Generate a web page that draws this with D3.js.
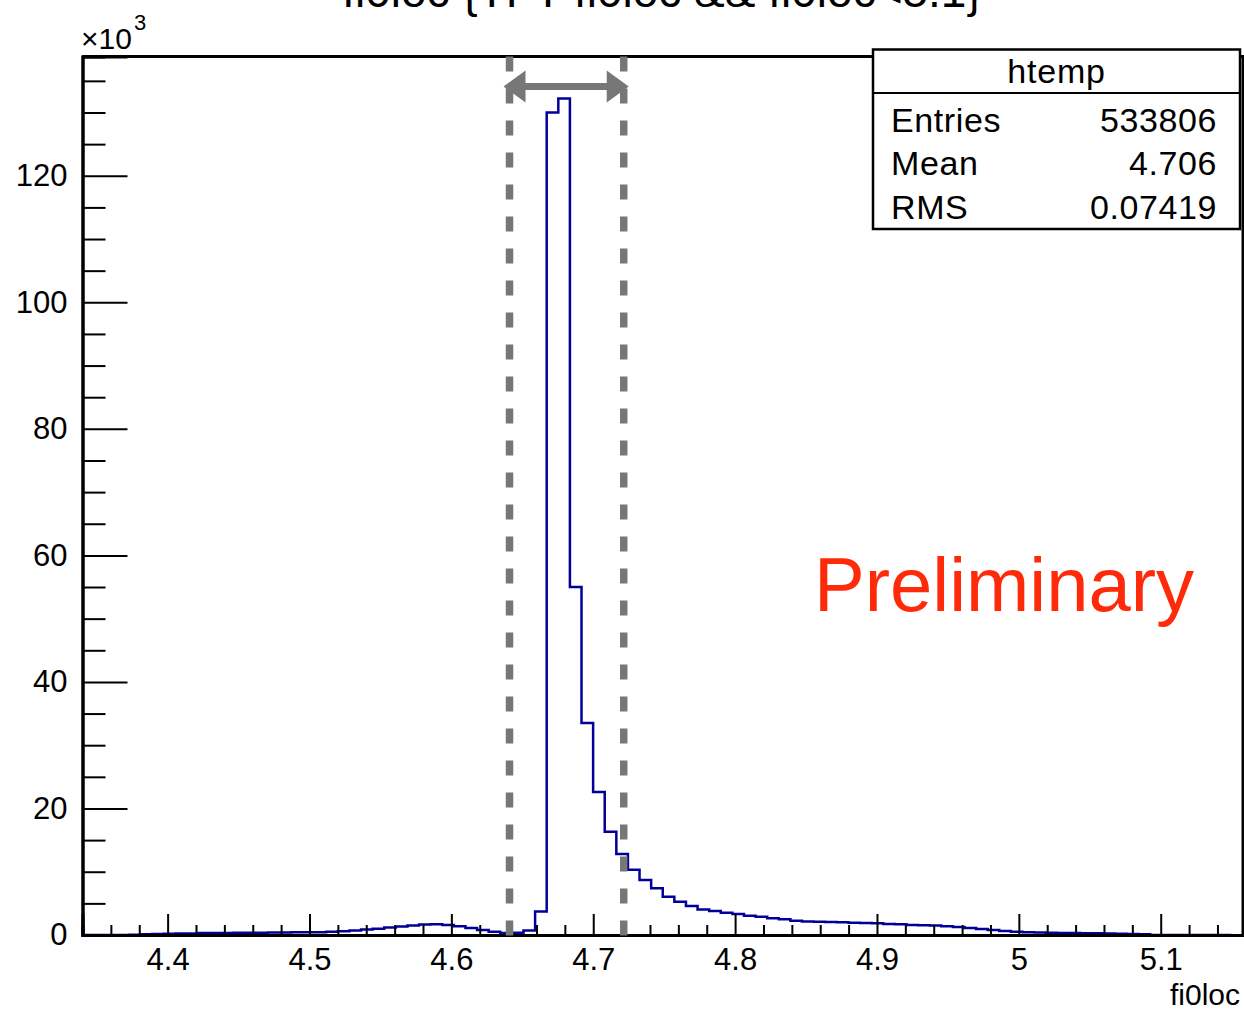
<!DOCTYPE html>
<html>
<head>
<meta charset="utf-8">
<script src="https://cdn.jsdelivr.net/npm/d3@7"></script>
<style>
  body { margin: 0; background: #fff; }
  text { font-family: "Liberation Sans", Arial, Helvetica, sans-serif; }
</style>
</head>
<body>
<div id="chart"></div>
<script>
// histogram definition (fi0loc, 100 bins)
const xMin = 4.34, xMax = 5.158, nBins = 100;
// bin contents, in units of 10^3 entries
const counts = [
  0, 0, 0, 0,
  0.05, 0.1, 0.15, 0.2, 0.25, 0.25, 0.3, 0.3, 0.3, 0.35, 0.35, 0.35, 0.4, 0.4, 0.45, 0.45,
  0.45, 0.5, 0.6, 0.7, 0.85, 1.0, 1.2, 1.35, 1.5, 1.65, 1.7, 1.6, 1.4, 1.1, 0.8, 0.5, 0.3, 0.35, 0.7, 3.7,
  130.0, 132.2, 55.0, 33.5, 22.6, 16.3, 12.8, 10.3, 8.7, 7.4, 6.05, 5.26, 4.58, 4.05, 3.8, 3.5, 3.3, 3.05, 2.9, 2.65, 2.5, 2.25,
  2.15, 2.1, 2.05, 2.0, 1.95, 1.9, 1.85, 1.75, 1.7, 1.6, 1.55, 1.5, 1.4, 1.25, 1.1, 0.95, 0.8, 0.65, 0.5, 0.45,
  0.4, 0.35, 0.33, 0.3, 0.28, 0.26, 0.24, 0.2, 0.16, 0.12,
  0, 0, 0, 0, 0, 0, 0
];
const xMajorTicks = [4.4, 4.5, 4.6, 4.7, 4.8, 4.9, 5.0, 5.1];
const yMajorTicks = [0, 20, 40, 60, 80, 100, 120];
const cutLines = [4.641, 4.7215];
const statRows = [['Entries', '533806'], ['Mean', '4.706'], ['RMS', '0.07419']];
const yMax = 138.85;

let width = 1244, height = 1011,
    margin = {left: 82.5, right: 1, top: 56.5, bottom: 76};

let svg = d3.select('#chart').append('svg')
    .attr('width', width)
    .attr('height', height);

svg.append('rect').attr('width', width).attr('height', height).attr('fill', '#fff');

let x = d3.scaleLinear()
    .domain([xMin, xMax])
    .range([margin.left, width - margin.right]);

let y = d3.scaleLinear()
    .domain([0, yMax])
    .range([height - margin.bottom, margin.top]);

let binW = (xMax - xMin) / nBins;

// title (cut off at top, as in the original canvas)
svg.append('text')
    .attr('x', 662).attr('y', 7)
    .attr('text-anchor', 'middle')
    .style('font-size', '46px')
    .text('fi0loc {TFT fi0loc && fi0loc<5.1}');

// histogram outline
let pts = [];
counts.forEach((c, i) => {
    pts.push([xMin + i * binW, c]);
    pts.push([xMin + (i + 1) * binW, c]);
});
let line = d3.line()
    .x(d => x(d[0]))
    .y(d => y(d[1]));

svg.append('path')
    .datum(pts)
    .attr('d', line)
    .attr('fill', 'none')
    .attr('stroke', '#000099')
    .attr('stroke-width', 2.5);

// x axis, ROOT-style ticks pointing inward
let xMinor = d3.range(4.36, 5.1575, 0.02).filter(v => !xMajorTicks.some(t => Math.abs(t - v) < 1e-6));
let xAxis_g = svg.append('g').attr('transform', `translate(0, ${y(0)})`);
xAxis_g.call(d3.axisBottom(x).tickValues(xMinor).tickSize(-10).tickFormat(''));
xAxis_g.append('g').call(d3.axisBottom(x).tickValues(xMajorTicks).tickSize(-21).tickPadding(13)
    .tickFormat(d => d3.format('~g')(d)));
xAxis_g.selectAll('.domain').attr('stroke-width', 3);
xAxis_g.selectAll('.tick line').attr('stroke', '#000').attr('stroke-width', 2);
xAxis_g.selectAll('text').style('font-size', '31px').attr('fill', '#000');

// y axis
let yMinor = d3.range(5, 136, 5).filter(v => v % 20 !== 0);
let yAxis_g = svg.append('g').attr('transform', `translate(${x(xMin)}, 0)`);
yAxis_g.call(d3.axisLeft(y).tickValues(yMinor).tickSize(-23).tickFormat(''));
yAxis_g.append('g').call(d3.axisLeft(y).tickValues(yMajorTicks).tickSize(-45).tickPadding(15));
yAxis_g.selectAll('.domain').attr('stroke-width', 3);
yAxis_g.selectAll('.tick line').attr('stroke', '#000').attr('stroke-width', 2);
yAxis_g.selectAll('text').style('font-size', '31px').attr('fill', '#000');

// frame top and right
svg.append('path')
    .attr('d', `M${x(xMin)},${y(yMax)}H${x(xMax)}V${y(0)}`)
    .attr('fill', 'none')
    .attr('stroke', '#000')
    .attr('stroke-width', 3);

// x10^3 exponent label
let expo = svg.append('text').attr('x', 81).attr('y', 49).style('font-size', '30px');
expo.append('tspan').text('×10');
expo.append('tspan').attr('dx', 2).attr('dy', -19).style('font-size', '22px').text('3');

// axis title
svg.append('text')
    .attr('x', 1240).attr('y', 1005)
    .attr('text-anchor', 'end')
    .style('font-size', '30px')
    .text('fi0loc');

// cut lines
svg.selectAll('.cut')
    .data(cutLines)
    .enter().append('line')
    .attr('class', 'cut')
    .attr('x1', d => x(d)).attr('x2', d => x(d))
    .attr('y1', y(yMax)).attr('y2', y(0) + 5)
    .attr('stroke', '#777')
    .attr('stroke-width', 7.5)
    .attr('stroke-dasharray', '15,17');

// double arrow between cuts
let ax1 = x(cutLines[0]) - 6, ax2 = x(cutLines[1]) + 5, ay = y(134.1);
let hl = 22, hh = 16, st = 3.5;
svg.append('path')
    .attr('d', `M${ax1},${ay} L${ax1 + hl},${ay - hh} L${ax1 + hl},${ay - st} L${ax2 - hl},${ay - st}
        L${ax2 - hl},${ay - hh} L${ax2},${ay} L${ax2 - hl},${ay + hh} L${ax2 - hl},${ay + st}
        L${ax1 + hl},${ay + st} L${ax1 + hl},${ay + hh} Z`)
    .attr('fill', '#777');

// Preliminary
svg.append('text')
    .attr('x', 814).attr('y', 611)
    .style('font-size', '76px')
    .attr('fill', '#ff2a0a')
    .text('Preliminary');

// stats box
let sb = {x: 873, y: 49.5, w: 367, h: 179.5};
let stat_g = svg.append('g');
stat_g.append('rect')
    .attr('x', sb.x).attr('y', sb.y).attr('width', sb.w).attr('height', sb.h)
    .attr('fill', '#fff').attr('stroke', '#000').attr('stroke-width', 2.5);
stat_g.append('line')
    .attr('x1', sb.x).attr('x2', sb.x + sb.w)
    .attr('y1', 93).attr('y2', 93)
    .attr('stroke', '#000').attr('stroke-width', 2);
stat_g.append('text')
    .attr('x', sb.x + sb.w / 2).attr('y', 83)
    .attr('text-anchor', 'middle')
    .style('font-size', '34px')
    .style('letter-spacing', '0.8px')
    .text('htemp');
statRows.forEach((r, i) => {
    let by = 131.5 + i * 43.5;
    stat_g.append('text').attr('x', 891).attr('y', by)
        .style('font-size', '34px').style('letter-spacing', '0.6px').text(r[0]);
    stat_g.append('text').attr('x', 1217).attr('y', by).attr('text-anchor', 'end')
        .style('font-size', '34px').style('letter-spacing', '0.6px').text(r[1]);
});
</script>
</body>
</html>
